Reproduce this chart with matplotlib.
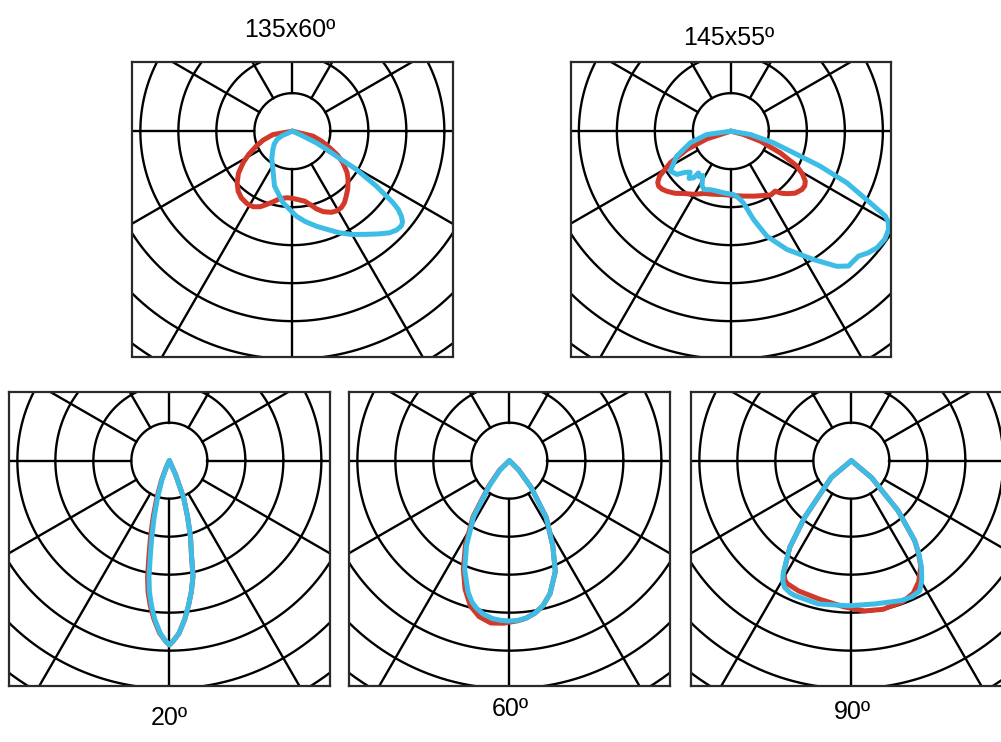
import numpy as np
import matplotlib
matplotlib.use("Agg")
import matplotlib.pyplot as plt

plt.rcParams["font.family"] = ["Liberation Sans", "DejaVu Sans"]

# intensity curves: angle from nadir (deg, + to the right), radius in ring units
p1_red_ang = [-86, -80, -73, -67.4, -62, -57.3, -52, -46.9, -42, -37.4, -32, -27.4, -23, -19.5, -15, -10.6, -5, -1, 4, 10,
              14, 17.2, 21, 25.7, 29, 32.6, 36, 39.7, 44, 49.1, 53, 58, 62, 65.9, 71, 76.4, 86]
p1_red_r = [0, 0.52, 0.8, 1.03, 1.3, 1.54, 1.8, 1.99, 2.13, 2.21, 2.25, 2.24, 2.16, 2.05, 1.92, 1.81, 1.76, 1.76, 1.8, 1.87,
            2.0, 2.14, 2.27, 2.37, 2.4, 2.39, 2.33, 2.22, 2.1, 1.94, 1.8, 1.57, 1.35, 1.08, 0.82, 0.56, 0]
p1_blue_ang = [-72, -66, -62, -55, -47, -37, -27, -18, -7.4, 2.7, 8, 14.2, 20, 24.9, 30, 35.6, 40, 43.7, 46.5, 48.9, 50.5,
               52, 53.5, 54.6, 56.8, 59.1, 60.4, 62, 64, 66, 68]
p1_blue_r = [0, 0.3, 0.45, 0.58, 0.7, 0.9, 1.13, 1.52, 1.90, 2.24, 2.4, 2.58, 2.76, 2.95, 3.14, 3.34, 3.53, 3.70, 3.78, 3.80,
             3.76, 3.64, 3.47, 3.25, 2.64, 1.96, 1.33, 1.02, 0.70, 0.21, 0]

p2_red_ang = [-80, -72.2, -67.4, -62.4, -57.7, -55, -52.7, -50, -46.8, -42, -37.2, -30, -23.7, -15, -6.6, 3, 11, 20, 27, 32,
              36.4, 39, 41.9, 46, 50.6, 53.5, 56.1, 59, 62.1, 66.3, 71.2, 75.4, 80]
p2_red_r = [0, 0.66, 1.25, 1.80, 2.22, 2.35, 2.39, 2.37, 2.31, 2.2, 2.06, 1.92, 1.79, 1.72, 1.68, 1.7, 1.74, 1.82, 1.90, 1.98,
            1.96, 2.1, 2.21, 2.35, 2.42, 2.42, 2.36, 2.2, 1.97, 1.42, 0.82, 0.34, 0]
p2_blue_ang = [-88, -82, -74, -65.2, -56.6, -51.3, -48, -44.8, -41.5, -38.6, -37.8, -35, -32.3, -28, -24.6, -19, -13.1, -5,
               2.4, 6, 10, 14.4, 18.9, 25.3, 32.8, 38.1, 41.1, 43.5, 45.6, 48.5, 51.4, 55, 58.1, 60, 61.2, 62.8, 66, 68.6,
               70.6, 74.7, 80.3, 86]
p2_blue_r = [0, 0.64, 1.11, 1.57, 1.91, 1.82, 1.62, 1.52, 1.66, 1.57, 1.39, 1.46, 1.38, 1.62, 1.69, 1.63, 1.62, 1.64,
             1.67, 1.75, 1.92, 2.40, 2.92, 3.44, 4.02, 4.52, 4.71, 4.70, 4.70, 4.83, 4.92, 4.95, 4.89, 4.78, 4.64, 4.12,
             3.34, 2.52, 1.84, 1.16, 0.52, 0]

p3_red_ang = [-27, -25, -22, -18.5, -16, -13.8, -12, -10.6, -9.2, -7.5, -5.5, -3.2, -1.2, 0, 1.2, 3.2, 5.5, 7.5, 9.5, 11.6,
              13, 15.5, 18, 21, 24, 27]
p3_red_r = [0, 0.2, 0.55, 1.05, 1.55, 2.08, 2.6, 3.12, 3.5, 3.85, 4.2, 4.55, 4.75, 4.85, 4.75, 4.55, 4.2, 3.85, 3.5, 3.1,
            2.6, 2.08, 1.55, 1.05, 0.4, 0]
p3_blue_ang = [-26, -24, -21, -17.5, -15, -12.9, -11.2, -9.9, -8.6, -7, -5.2, -3, -1.2, 0, 1.2, 3.2, 5.5, 7.5, 9.5, 11.6,
               13, 15.5, 18, 21, 24, 27]
p3_blue_r = [0, 0.2, 0.55, 1.05, 1.55, 2.08, 2.6, 3.12, 3.5, 3.85, 4.2, 4.55, 4.75, 4.85, 4.75, 4.55, 4.2, 3.85, 3.5, 3.1,
             2.6, 2.08, 1.55, 1.05, 0.4, 0]

p4_red_ang = [-53, -46, -39, -33, -27.5, -23, -19, -15, -11, -6.5, -2, 0, 3, 6, 9.5, 13, 17, 22.5, 27, 33, 39.2, 45, 52]
p4_red_r = [0, 0.35, 0.85, 1.75, 2.5, 3.1, 3.58, 3.96, 4.18, 4.3, 4.28, 4.25, 4.22, 4.17, 4.07, 3.92, 3.66, 3.16, 2.52,
            1.78, 0.9, 0.35, 0]
p4_blue_ang = [-52, -45, -38.5, -32.5, -26.8, -22.3, -17.5, -14.8, -12.5, -9.5, -6, -3, 0, 3, 6, 9.5, 13, 17, 22.5, 27,
               33, 39.2, 45, 52]
p4_blue_r = [0, 0.35, 0.85, 1.75, 2.5, 3.1, 3.62, 3.85, 3.98, 4.1, 4.18, 4.21, 4.22, 4.21, 4.17, 4.07, 3.92, 3.66, 3.16,
             2.52, 1.78, 0.9, 0.35, 0]

p5_red_ang = [-56, -50, -43, -39.5, -35.4, -31.1, -29, -27.5, -22, -13, -3, 5, 12, 20, 25, 29, 33.3, 36, 38.4, 43, 50, 56]
p5_red_r = [0, 0.69, 1.2, 1.93, 2.8, 3.45, 3.6, 3.65, 3.7, 3.74, 3.85, 3.97, 4.0, 3.95, 3.85, 3.65, 3.33, 3.0, 2.68, 1.8,
            0.69, 0]
p5_blue_ang = [-56, -50, -43, -39.5, -35.4, -31.1, -29.5, -27.8, -25, -22.8, -13.1, -1, 9.2, 19.7, 24, 27.7, 30.5, 33.3,
               36, 38.4, 43, 50, 56]
p5_blue_r = [0, 0.69, 1.2, 1.93, 2.80, 3.48, 3.66, 3.77, 3.83, 3.85, 3.87, 3.82, 3.82, 3.91, 3.92, 3.87, 3.65, 3.36, 3.02,
             2.68, 1.8, 0.69, 0]

titles = ["135x60º", "145x55º", "20º", "60º", "90º"]

ring_radii = [1, 2, 3, 4, 5, 6, 7]
spoke_angles = [-150, -120, -90, -60, -30, 0, 30, 60, 90, 120, 150, 180]

RED = "#d3392b"
BLUE = "#3dbde6"
W, H = 1001, 742
UNIT = 38.0
XLIM = (-4.22, 4.22)
YLIM = (-5.93, 1.82)


def to_xy(ang, r):
    a = np.radians(np.asarray(ang, dtype=float))
    r = np.asarray(r, dtype=float)
    return r * np.sin(a), -r * np.cos(a)


def polar_panel(fig, left, top, red, blue):
    w = (XLIM[1] - XLIM[0]) * UNIT
    h = (YLIM[1] - YLIM[0]) * UNIT
    ax = fig.add_axes([left / W, 1 - (top + h) / H, w / W, h / H])
    ax.set_xlim(*XLIM)
    ax.set_ylim(*YLIM)
    ax.set_xticks([])
    ax.set_yticks([])
    for s in ax.spines.values():
        s.set_linewidth(1.6)
        s.set_color("#2a2a2a")

    t = np.linspace(0, 2 * np.pi, 400)
    for rr in ring_radii:
        ax.plot(rr * np.cos(t), rr * np.sin(t), color="black", lw=1.7)
    for a in spoke_angles:
        x, y = to_xy([a, a], [ring_radii[0], 10])
        ax.plot(x, y, color="black", lw=1.7)

    x, y = to_xy(*red)
    ax.plot(x, y, color=RED, lw=3.6, solid_joinstyle="round", solid_capstyle="round")
    x, y = to_xy(*blue)
    ax.plot(x, y, color=BLUE, lw=3.6, solid_joinstyle="round", solid_capstyle="round")
    return ax


fig = plt.figure(figsize=(W / 100, H / 100), dpi=100)

polar_panel(fig, 132, 62, (p1_red_ang, p1_red_r), (p1_blue_ang, p1_blue_r))
polar_panel(fig, 570.5, 62, (p2_red_ang, p2_red_r), (p2_blue_ang, p2_blue_r))
polar_panel(fig, 9, 391.5, (p3_red_ang, p3_red_r), (p3_blue_ang, p3_blue_r))
polar_panel(fig, 349, 391.5, (p4_red_ang, p4_red_r), (p4_blue_ang, p4_blue_r))
polar_panel(fig, 691, 391.5, (p5_red_ang, p5_red_r), (p5_blue_ang, p5_blue_r))

label_pos = [(290, 30), (729, 38), (169, 718), (510, 709), (852, 712)]
for txt, (px, py) in zip(titles, label_pos):
    fig.text(px / W, 1 - py / H, txt, ha="center", va="center", fontsize=18)

fig.savefig("out.png", dpi=100)
